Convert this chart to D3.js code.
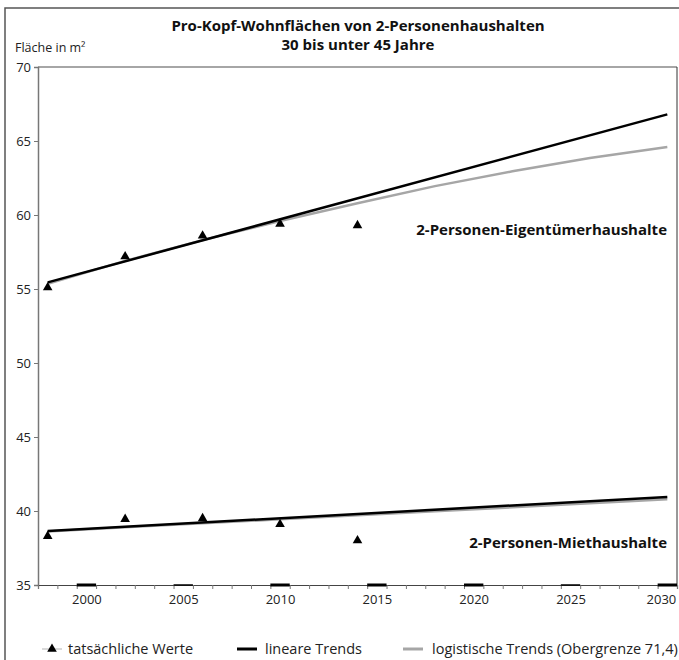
<!DOCTYPE html>
<html>
<head>
<meta charset="utf-8">
<script src="https://cdn.jsdelivr.net/npm/d3@7"></script>
<style>
	body { margin: 0; background: #fff; }
	svg { display: block; font-family: 'Open Sans', sans-serif; }
</style>
</head>
<body>
<svg id="chart" width="679" height="660"></svg>
<script>
	'use strict';

	// data
	var years = d3.range(1998, 2031);
	var labelYears = [2000, 2005, 2010, 2015, 2020, 2025, 2030];
	var thinMarkYears = [2005, 2025];
	var yTicks = [35, 40, 45, 50, 55, 60, 65, 70];

	var surveyYears = [1998, 2002, 2006, 2010, 2014];
	var ownerActual = [55.1, 57.2, 58.6, 59.4, 59.3];
	var renterActual = [38.3, 39.45, 39.5, 39.1, 38.0];

	var linearYears = [1998, 2030];
	var ownerLinear = [55.45, 66.8];
	var renterLinear = [38.65, 40.95];

	var logisticYears = [1998, 2002, 2006, 2010, 2014, 2018, 2022, 2026, 2030];
	var ownerLogistic = [55.35, 56.9, 58.3, 59.6, 60.8, 61.95, 62.95, 63.85, 64.6];
	var renterLogistic = [38.62, 38.9, 39.17, 39.44, 39.71, 39.98, 40.25, 40.53, 40.8];

	var seriesLabels = ['2-Personen-Eigentümerhaushalte', '2-Personen-Miethaushalte'];
	var legendLabels = ['tatsächliche Werte', 'lineare Trends', 'logistische Trends (Obergrenze 71,4)'];

	var svg = d3.select('#chart');
	var plot = {left: 38, right: 677, top: 67, bottom: 585};

	// outer frame (top + left only, as cropped)
	svg.append('path')
		.attr('d', 'M5,662 L5,8 L681,8')
		.attr('fill', 'none')
		.attr('stroke', '#555')
		.attr('stroke-width', 1.5);

	// title
	var title = svg.append('text')
		.attr('x', 358)
		.attr('text-anchor', 'middle')
		.attr('font-weight', 700)
		.attr('font-size', '15px')
		.attr('fill', '#111');
	title.append('tspan').attr('x', 358).attr('y', 31).text('Pro-Kopf-Wohnflächen von 2-Personenhaushalten');
	title.append('tspan').attr('x', 358).attr('y', 50).text('30 bis unter 45 Jahre');

	svg.append('text')
		.attr('x', 15)
		.attr('y', 52)
		.attr('font-size', '12.5px')
		.attr('fill', '#222')
		.text('Fläche in m²');

	// scales: category axis, one slot per year
	var x = d3.scaleLinear()
		.domain([years[0] - 0.5, years[years.length - 1] + 0.5])
		.range([plot.left, plot.right]);

	var y = d3.scaleLinear()
		.domain([35, 70])
		.range([plot.bottom, plot.top]);

	// plot frame (top + right)
	svg.append('path')
		.attr('d', 'M' + plot.left + ',' + plot.top + ' L' + plot.right + ',' + plot.top)
		.attr('stroke', '#888')
		.attr('stroke-width', 1.5);
	svg.append('path')
		.attr('d', 'M' + plot.right + ',' + plot.top + ' L' + plot.right + ',' + plot.bottom)
		.attr('stroke', '#333')
		.attr('stroke-width', 1);

	// y axis
	var yAxis = svg.append('g')
		.attr('transform', 'translate(' + plot.left + ',0)')
		.call(d3.axisLeft(y).tickValues(yTicks).tickSize(4).tickPadding(3));
	yAxis.select('.domain').attr('stroke', '#777').attr('stroke-width', 1.5);
	yAxis.selectAll('.tick line').attr('stroke', '#777');
	yAxis.selectAll('text').attr('font-size', '13px').attr('fill', '#222').attr('font-family', 'Open Sans, sans-serif');

	// x axis: ticks at category boundaries, labels in the slot centres
	var bounds = d3.range(years[0] - 0.5, years[years.length - 1] + 1, 1);
	var xAxis = svg.append('g')
		.attr('transform', 'translate(0,' + plot.bottom + ')')
		.call(d3.axisBottom(x).tickValues(bounds).tickSize(4).tickFormat(''));
	xAxis.select('.domain').attr('stroke', '#444').attr('stroke-width', 1.2);
	xAxis.selectAll('.tick line').attr('stroke', '#777');

	var xLabels = svg.append('g')
		.attr('transform', 'translate(0,' + plot.bottom + ')')
		.call(d3.axisBottom(x).tickValues(labelYears).tickSize(0).tickPadding(10).tickFormat(d3.format('d')));
	xLabels.select('.domain').remove();
	xLabels.selectAll('text').attr('font-size', '13px').attr('fill', '#222').attr('font-family', 'Open Sans, sans-serif');
	// last label sits against the edge in the reference
	xLabels.selectAll('text').filter(function(d) { return d === 2030; }).attr('text-anchor', 'end').attr('dx', '0.65em');

	// dark marks on the axis at the labelled years
	svg.selectAll('line.mark')
		.data(labelYears).enter()
		.append('line')
			.attr('class', 'mark')
			.attr('x1', function(d) { return x(d - 0.5); })
			.attr('x2', function(d) { return x(d + 0.5); })
			.attr('y1', plot.bottom)
			.attr('y2', plot.bottom)
			.attr('stroke', '#000')
			.attr('stroke-width', function(d) { return thinMarkYears.indexOf(d) > -1 ? 1.5 : 3; });

	var line = d3.line()
		.x(function(d) { return x(d[0]); })
		.y(function(d) { return y(d[1]); });

	function pairs(xs, ys) {
		return xs.map(function(d, i) { return [d, ys[i]]; });
	}

	var trends = [
		{pts: pairs(logisticYears, ownerLogistic), color: '#a6a6a6'},
		{pts: pairs(logisticYears, renterLogistic), color: '#a6a6a6'},
		{pts: pairs(linearYears, ownerLinear), color: '#000'},
		{pts: pairs(linearYears, renterLinear), color: '#000'}
	];

	svg.selectAll('path.trend')
		.data(trends).enter()
		.append('path')
			.attr('class', 'trend')
			.attr('d', function(d) { return line(d.pts); })
			.attr('fill', 'none')
			.attr('stroke', function(d) { return d.color; })
			.attr('stroke-width', 2.5);

	var tri = d3.symbol().type(d3.symbolTriangle).size(40);
	var points = pairs(surveyYears, ownerActual).concat(pairs(surveyYears, renterActual));

	svg.selectAll('path.pt')
		.data(points).enter()
		.append('path')
			.attr('class', 'pt')
			.attr('d', tri)
			.attr('transform', function(d) { return 'translate(' + x(d[0]) + ',' + y(d[1]) + ')'; })
			.attr('fill', '#000');

	// series labels
	svg.selectAll('text.series')
		.data(seriesLabels).enter()
		.append('text')
			.attr('class', 'series')
			.attr('x', 667)
			.attr('y', function(d, i) { return i === 0 ? 235 : 548; })
			.attr('text-anchor', 'end')
			.attr('font-weight', 700)
			.attr('font-size', '15px')
			.attr('fill', '#111')
			.text(function(d) { return d; });

	// legend
	var legendX = [42, 237, 403];
	var legend = svg.selectAll('g.legend')
		.data(legendLabels).enter()
		.append('g')
			.attr('class', 'legend')
			.attr('transform', function(d, i) { return 'translate(' + legendX[i] + ',649)'; });

	legend.append('line')
		.attr('x1', 0)
		.attr('x2', 20)
		.attr('stroke', function(d, i) { return i === 0 ? '#ccc' : (i === 1 ? '#000' : '#a6a6a6'); })
		.attr('stroke-width', function(d, i) { return i === 0 ? 1.5 : 3; });

	legend.filter(function(d, i) { return i === 0; })
		.append('path')
			.attr('d', tri)
			.attr('transform', 'translate(10,0)')
			.attr('fill', '#000');

	legend.append('text')
		.attr('x', function(d, i) { return i === 0 ? 26 : (i === 1 ? 28 : 29); })
		.attr('y', 5)
		.attr('font-size', '14.5px')
		.attr('fill', '#222')
		.text(function(d) { return d; });
</script>
</body>
</html>
